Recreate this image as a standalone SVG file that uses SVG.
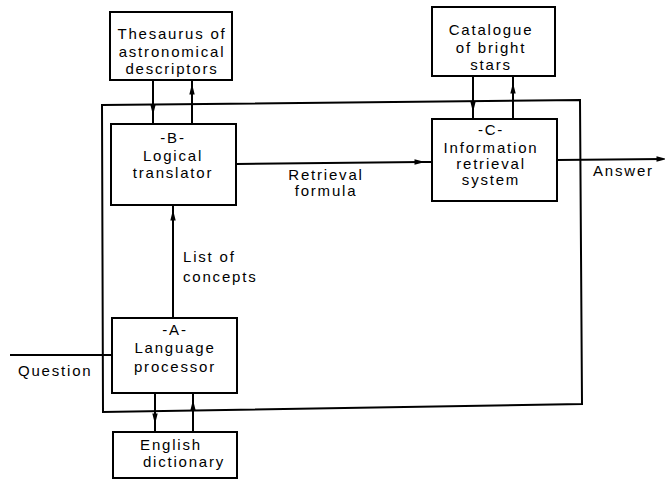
<svg xmlns="http://www.w3.org/2000/svg" width="665" height="479" viewBox="0 0 665 479">
<defs>
<style>
.box{fill:#fff;stroke:#000;stroke-width:2}
.ln{fill:none;stroke:#000;stroke-width:2}
.t{font-family:"Liberation Sans",Arial,sans-serif;font-size:15px;letter-spacing:1.8px;fill:#000;text-anchor:middle}
.l{text-anchor:start}
</style>
<marker id="ah" viewBox="0 0 10 6" refX="6" refY="3" markerWidth="11" markerHeight="6.5" markerUnits="userSpaceOnUse" orient="auto">
<path d="M0,0.5 L10,3 L0,5.5 Z" fill="#000"/>
</marker>
</defs>
<rect width="665" height="479" fill="#fff"/>
<g id="connectors">
<polygon class="ln" points="102,105 580,100 582,404 103,412"/>
<path class="ln" d="M153,80 L153,111 L153,124" marker-mid="url(#ah)"/>
<path class="ln" d="M192,124 L192,88 L192,80" marker-mid="url(#ah)"/>
<path class="ln" d="M473,76 L473,108 L473,119" marker-mid="url(#ah)"/>
<path class="ln" d="M513,119 L513,87 L513,76" marker-mid="url(#ah)"/>
<path class="ln" d="M155,393 L155,420 L155,432" marker-mid="url(#ah)"/>
<path class="ln" d="M193,432 L193,404 L193,393" marker-mid="url(#ah)"/>
<path class="ln" d="M173,321 L173,214 L173,205" marker-mid="url(#ah)"/>
<path class="ln" d="M236,164 L421,162 L432,162" marker-mid="url(#ah)"/>
<path class="ln" d="M557,160 L663,159" marker-end="url(#ah)"/>
<path class="ln" d="M10,355 L112,355"/>
<text class="t" x="326" y="180">Retrieval</text>
<text class="t" x="326" y="196">formula</text>
<text class="t l" x="183" y="262">List of</text>
<text class="t l" x="183" y="282">concepts</text>
<text class="t l" x="18" y="376">Question</text>
<text class="t l" x="593" y="176">Answer</text>
</g>
<g id="thesaurus">
<rect class="box" x="110" y="12" width="122" height="68"/>
<text class="t" x="172" y="39">Thesaurus of</text>
<text class="t" x="172" y="57">astronomical</text>
<text class="t" x="172" y="74">descriptors</text>
</g>
<g id="catalogue">
<rect class="box" x="432" y="7" width="123" height="69"/>
<text class="t" x="491" y="35">Catalogue</text>
<text class="t" x="491" y="53">of bright</text>
<text class="t" x="491" y="70">stars</text>
</g>
<g id="nodeB">
<rect class="box" x="111" y="124" width="125" height="81"/>
<text class="t" x="173" y="143">-B-</text>
<text class="t" x="173" y="161">Logical</text>
<text class="t" x="173" y="178">translator</text>
</g>
<g id="nodeC">
<rect class="box" x="432" y="119" width="125" height="82"/>
<text class="t" x="491" y="135">-C-</text>
<text class="t" x="491" y="153">Information</text>
<text class="t" x="491" y="169">retrieval</text>
<text class="t" x="491" y="185">system</text>
</g>
<g id="nodeA">
<rect class="box" x="112" y="318" width="125" height="75"/>
<text class="t" x="175" y="335">-A-</text>
<text class="t" x="175" y="353">Language</text>
<text class="t" x="175" y="372">processor</text>
</g>
<g id="dictionary">
<rect class="box" x="113" y="432" width="124" height="46"/>
<text class="t" x="171" y="450">English</text>
<text class="t" x="184" y="467">dictionary</text>
</g>
</svg>
